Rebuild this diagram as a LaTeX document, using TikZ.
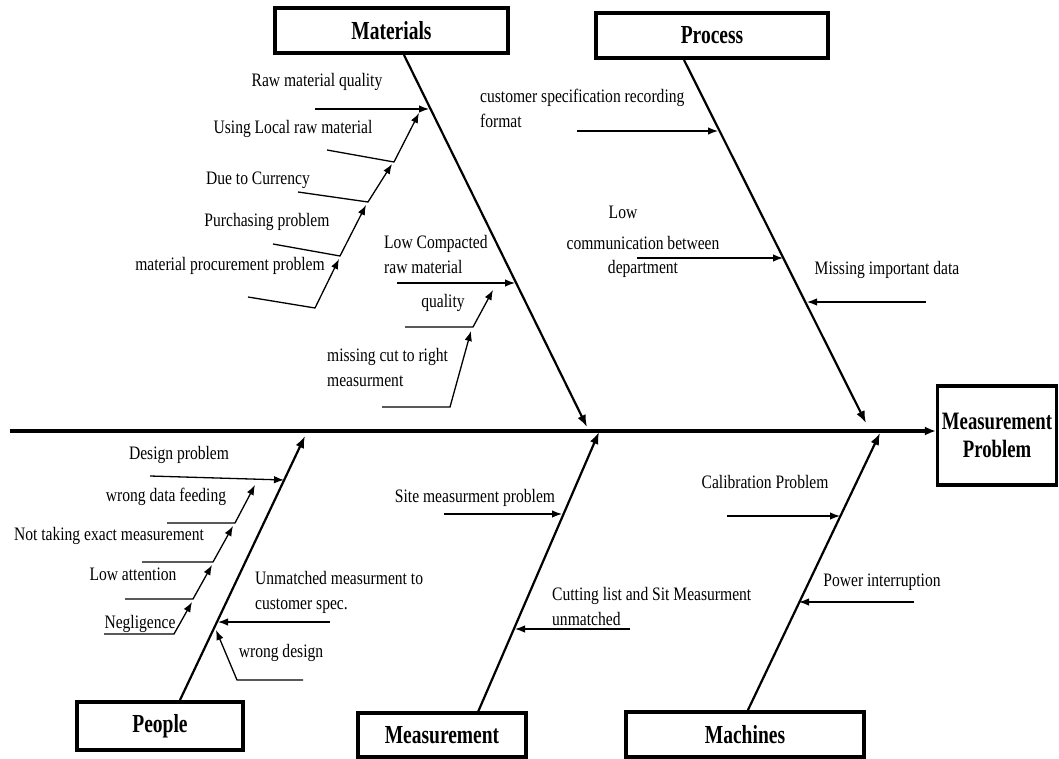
\documentclass[tikz,border=0pt]{standalone}
\usepackage{fontspec}
\setmainfont[FakeStretch=0.82]{Liberation Serif}
\newfontfamily\headfont[FakeStretch=0.75]{Liberation Serif}
\usetikzlibrary{arrows.meta}

\begin{document}
\begin{tikzpicture}[x=1pt,y=-1pt,
  lbl/.style={font=\fontsize{19}{25}\selectfont, inner sep=0pt},
  head/.style={draw, line width=3.2pt, inner sep=0pt,
    font=\headfont\bfseries\fontsize{26}{28}\selectfont},
  spine/.style={line width=2.2pt, -{Latex[length=12pt,width=9pt]}},
  twig/.style={line width=1.3pt, -{Latex[length=10pt,width=7.5pt]}}
]
\useasboundingbox (0,0) rectangle (1059,759);

% category boxes and the effect box
\node[head, minimum width=233pt, minimum height=45pt] (mat) at (391.5,30.5) {Materials};
\node[head, minimum width=232pt, minimum height=45pt] (proc) at (712,35.5) {Process};
\node[head, minimum width=119pt, minimum height=99pt, align=center,
      font=\headfont\bfseries\fontsize{25}{28}\selectfont] (mp) at (997,435.5) {Measurement\\Problem};
\node[head, minimum width=166pt, minimum height=48pt] (ppl) at (160,726) {People};
\node[head, minimum width=168pt, minimum height=44pt] (meas) at (442,735) {Measurement};
\node[head, minimum width=238pt, minimum height=45pt] (mach) at (745,734.5) {Machines};

% backbone
\coordinate (tail) at (10,431);
\draw[line width=3.5pt, -{Latex[length=11pt,width=9pt]}] (tail) -- (tail -| mp.west);

% main bones
\coordinate (matA) at (404,55);   \coordinate (matB) at (587,427);
\coordinate (procA) at (684,60);  \coordinate (procB) at (866,423);
\coordinate (pplA) at (180,700);  \coordinate (pplB) at (305,436);
\coordinate (measA) at (478,712); \coordinate (measB) at (599,432);
\coordinate (machA) at (747,712); \coordinate (machB) at (880,433);
\draw[spine] (matA) -- (matB);
\draw[spine] (procA) -- (procB);
\draw[spine] (pplA) -- (pplB);
\draw[spine] (measA) -- (measB);
\draw[spine] (machA) -- (machB);

% ---- Materials causes
\node[lbl] (t1) at (317,82) {Raw material quality};
\node[lbl] (t2) at (293,129) {Using Local raw material};
\node[lbl] (t3) at (258,180) {Due to Currency};
\node[lbl] (t4) at (267,222) {Purchasing problem};
\node[lbl] (t5) at (230,266) {material procurement problem};
\node[lbl, anchor=west, align=left] (t6) at (384,255) {Low Compacted\\raw material};
\node[lbl] (t7) at (443,303) {quality};
\node[lbl, anchor=west, align=left] (t8) at (327,367) {missing cut to right\\measurment};

\coordinate (a1) at (315,109); \coordinate (a2) at (429,109);
\draw[twig] (a1) -- (a2);
\coordinate (b1) at (327,150); \coordinate (b2) at (394,162); \coordinate (b3) at (419,113);
\draw[twig] (b1) -- (b2) -- (b3);
\coordinate (c1) at (298,192); \coordinate (c2) at (368,202); \coordinate (c3) at (392,164);
\draw[twig] (c1) -- (c2) -- (c3);
\coordinate (d1) at (273,244); \coordinate (d2) at (340,256); \coordinate (d3) at (366,205);
\draw[twig] (d1) -- (d2) -- (d3);
\coordinate (e1) at (248,297); \coordinate (e2) at (315,308); \coordinate (e3) at (339,259);
\draw[twig] (e1) -- (e2) -- (e3);
\coordinate (f1) at (397,283); \coordinate (f2) at (515,283);
\draw[twig] (f1) -- (f2);
\coordinate (g1) at (405,327); \coordinate (g2) at (473,327); \coordinate (g3) at (493,290);
\draw[twig] (g1) -- (g2) -- (g3);
\coordinate (h1) at (382,407); \coordinate (h2) at (450,407); \coordinate (h3) at (471,331);
\draw[twig] (h1) -- (h2) -- (h3);

% ---- Process causes
\node[lbl, anchor=west, align=left] (p1) at (480,108) {customer specification recording\\format};
\node[lbl] (p2) at (623,212) {Low};
\node[lbl] (p3) at (643,243) {communication between};
\node[lbl] (p4) at (643,269) {department};
\node[lbl] (p5) at (887,270) {Missing important data};

\coordinate (pa1) at (577,131); \coordinate (pa2) at (718,131);
\draw[twig] (pa1) -- (pa2);
\coordinate (pb1) at (637,258); \coordinate (pb2) at (783,258);
\draw[twig] (pb1) -- (pb2);
\coordinate (pc1) at (926,302); \coordinate (pc2) at (807,302);
\draw[twig] (pc1) -- (pc2);

% ---- People causes
\node[lbl] (q1) at (179,455) {Design problem};
\node[lbl] (q2) at (166,497) {wrong data feeding};
\node[lbl] (q3) at (109,536) {Not taking exact measurement};
\node[lbl] (q4) at (133,574) {Low attention};
\node[lbl] (q5) at (140,624) {Negligence};
\node[lbl, anchor=west, align=left] (q6) at (255,592) {Unmatched measurment to\\customer spec.};
\node[lbl] (q7) at (281,653) {wrong design};

\coordinate (qa1) at (150,476); \coordinate (qa2) at (284,480);
\draw[twig] (qa1) -- (qa2);
\coordinate (qb1) at (167,523); \coordinate (qb2) at (235,523); \coordinate (qb3) at (255,485);
\draw[twig] (qb1) -- (qb2) -- (qb3);
\coordinate (qc1) at (142,562); \coordinate (qc2) at (213,562); \coordinate (qc3) at (233,526);
\draw[twig] (qc1) -- (qc2) -- (qc3);
\coordinate (qd1) at (125,599); \coordinate (qd2) at (193,599); \coordinate (qd3) at (212,565);
\draw[twig] (qd1) -- (qd2) -- (qd3);
\coordinate (qe1) at (104,634); \coordinate (qe2) at (174,634); \coordinate (qe3) at (192,602);
\draw[twig] (qe1) -- (qe2) -- (qe3);
\coordinate (qf1) at (330,622); \coordinate (qf2) at (218,622);
\draw[twig] (qf1) -- (qf2);
\coordinate (qg1) at (303,680); \coordinate (qg2) at (237,680); \coordinate (qg3) at (216,630);
\draw[twig] (qg1) -- (qg2) -- (qg3);

% ---- Measurement causes
\node[lbl] (m1) at (475,498) {Site measurment problem};
\node[lbl, anchor=west, align=left] (m2) at (552,606) {Cutting list and Sit Measurment\\unmatched};
\coordinate (ma1) at (444,514); \coordinate (ma2) at (562,514);
\draw[twig] (ma1) -- (ma2);
\coordinate (mb1) at (630,629); \coordinate (mb2) at (515,629);
\draw[twig] (mb1) -- (mb2);

% ---- Machines causes
\node[lbl] (n1) at (765,482) {Calibration Problem};
\node[lbl] (n2) at (882,582) {Power interruption};
\coordinate (na1) at (727,516); \coordinate (na2) at (840,516);
\draw[twig] (na1) -- (na2);
\coordinate (nb1) at (914,602); \coordinate (nb2) at (799,602);
\draw[twig] (nb1) -- (nb2);
\end{tikzpicture}
\end{document}
